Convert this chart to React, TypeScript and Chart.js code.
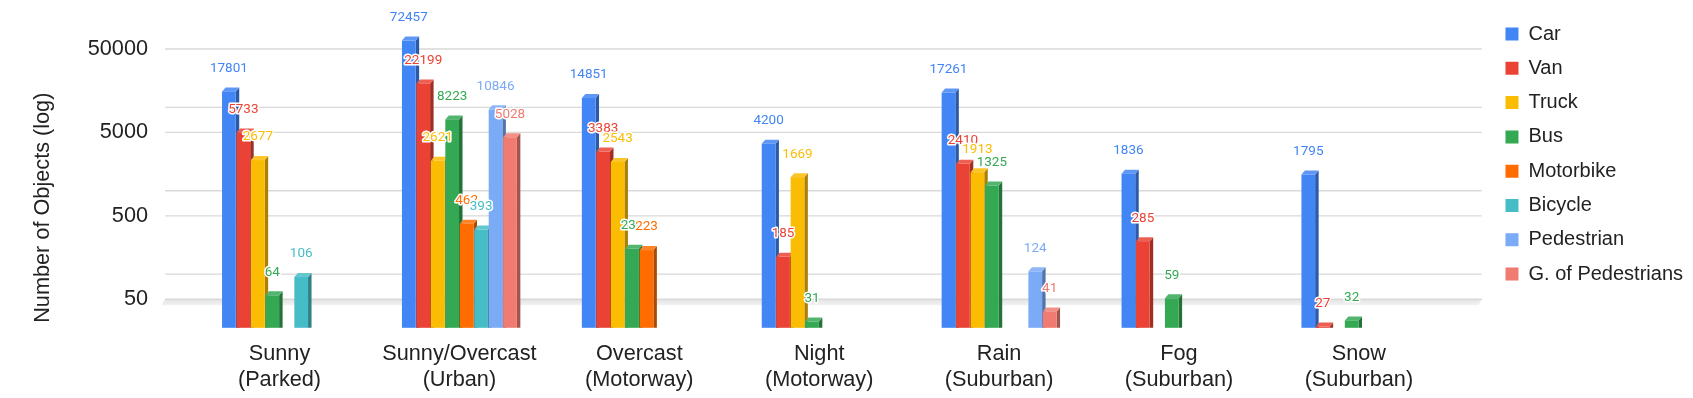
import React, { useEffect, useRef } from 'react';
import { Chart, registerables } from 'chart.js';

Chart.register(...registerables);

// ---------- data ----------
const categories: string[][] = [
  ['Sunny', '(Parked)'],
  ['Sunny/Overcast', '(Urban)'],
  ['Overcast', '(Motorway)'],
  ['Night', '(Motorway)'],
  ['Rain', '(Suburban)'],
  ['Fog', '(Suburban)'],
  ['Snow', '(Suburban)'],
];

const seriesNames = ['Car', 'Van', 'Truck', 'Bus', 'Motorbike', 'Bicycle', 'Pedestrian', 'G. of Pedestrians'];
const seriesColors = ['#4285F4', '#EA4335', '#FBBC04', '#34A853', '#FF6D01', '#46BDC6', '#7BAAF7', '#F07B72'];

const car = [17801, 72457, 14851, 4200, 17261, 1836, 1795];
const van = [5733, 22199, 3383, 185, 2410, 285, 27];
const truck = [2677, 2621, 2543, 1669, 1913, null, null];
const bus = [64, 8223, 231, 31, 1325, 59, 32];
const motorbike = [null, 462, 223, null, null, null, null];
const bicycle = [106, 393, null, null, null, null, null];
const pedestrian = [null, 10846, null, null, 124, null, null];
const groupsOfPedestrians = [null, 5028, null, null, 41, null, null];

const seriesValues = [car, van, truck, bus, motorbike, bicycle, pedestrian, groupsOfPedestrians];

const tickValues = [50, 500, 5000, 50000];
const gridValues = [50, 100, 500, 1000, 5000, 10000, 50000];
const floorValue = 50;
const yMin = 26.1;
const yMax = 148000;

// ---------- style ----------
const FONT = "'Liberation Sans', Arial, sans-serif";
const TEXT = '#222222';
const DX = 3.5; // depth to the right
const DROP = 5; // front face drop below the back plane
const TOPD = 4; // vertical depth of the top face
const CHART_RIGHT = 1448.85;

function mix(hex: string, target: number, t: number): string {
  const n = parseInt(hex.slice(1), 16);
  const r = (n >> 16) & 255, g = (n >> 8) & 255, b = n & 255;
  const f = (c: number) => Math.round(c + (target - c) * t);
  return `rgb(${f(r)},${f(g)},${f(b)})`;
}

const threeD = {
  id: 'threeD',
  beforeDatasetsDraw(chart: any) {
    const { ctx, chartArea, scales } = chart;
    const ys = scales.y;
    const gl = chartArea.left - 24.5;
    const gr = chartArea.right + 32.9;
    ctx.save();
    // floor
    const yf = ys.getPixelForValue(floorValue);
    const grad = ctx.createLinearGradient(0, yf, 0, yf + 6);
    grad.addColorStop(0, '#e2e2e2');
    grad.addColorStop(1, '#f3f3f3');
    ctx.fillStyle = grad;
    ctx.beginPath();
    ctx.moveTo(gl, yf);
    ctx.lineTo(gr, yf);
    ctx.lineTo(gr - DX, yf + 6);
    ctx.lineTo(gl - DX, yf + 6);
    ctx.closePath();
    ctx.fill();
    // grid lines on the back wall
    ctx.strokeStyle = '#d9d9d9';
    ctx.lineWidth = 1.3;
    gridValues.forEach((v) => {
      const py = ys.getPixelForValue(v);
      ctx.beginPath();
      ctx.moveTo(gl, py);
      ctx.lineTo(gr, py);
      ctx.stroke();
    });
    // bars
    chart.data.datasets.forEach((ds: any, di: number) => {
      if (!chart.isDatasetVisible(di)) return;
      const meta = chart.getDatasetMeta(di);
      const color = ds.backgroundColor as string;
      const side = mix(color, 0, 0.32);
      const top = mix(color, 255, 0.15);
      meta.data.forEach((el: any, i: number) => {
        const v = ds.data[i];
        if (v == null) return;
        const { x, y, base, width } = el.getProps(['x', 'y', 'base', 'width'], true);
        const x0 = x - width / 2;
        const x1 = x + width / 2;
        const yt = y + DROP;
        const yb = base + DROP;
        // side face
        ctx.fillStyle = side;
        ctx.beginPath();
        ctx.moveTo(x1, yt);
        ctx.lineTo(x1 + DX, yt - TOPD);
        ctx.lineTo(x1 + DX, yb);
        ctx.lineTo(x1, yb);
        ctx.closePath();
        ctx.fill();
        // top face
        ctx.fillStyle = top;
        ctx.beginPath();
        ctx.moveTo(x0, yt);
        ctx.lineTo(x0 + DX, yt - TOPD);
        ctx.lineTo(x1 + DX, yt - TOPD);
        ctx.lineTo(x1, yt);
        ctx.closePath();
        ctx.fill();
        // front face
        ctx.fillStyle = color;
        ctx.fillRect(x0, yt, width, yb - yt);
      });
    });
    ctx.restore();
  },
  beforeDatasetDraw() {
    return false;
  },
  afterDatasetsDraw(chart: any) {
    const { ctx } = chart;
    ctx.save();
    ctx.font = "13.5px Roboto, 'Liberation Sans', sans-serif";
    ctx.textAlign = 'center';
    ctx.textBaseline = 'middle';
    ctx.lineJoin = 'round';
    chart.data.datasets.forEach((ds: any, di: number) => {
      if (!chart.isDatasetVisible(di)) return;
      const meta = chart.getDatasetMeta(di);
      meta.data.forEach((el: any, i: number) => {
        const v = ds.data[i];
        if (v == null) return;
        const { x, y } = el.getProps(['x', 'y'], true);
        const ly = y - 18;
        ctx.strokeStyle = '#ffffff';
        ctx.lineWidth = 3;
        ctx.strokeText(String(v), x, ly);
        ctx.fillStyle = ds.backgroundColor;
        ctx.fillText(String(v), x, ly);
      });
    });
    ctx.restore();
  },
};

export default function App() {
  const canvasRef = useRef<HTMLCanvasElement | null>(null);

  useEffect(() => {
    const canvas = canvasRef.current;
    if (!canvas) return;
    const chart = new Chart(canvas, {
      type: 'bar',
      data: {
        labels: categories,
        datasets: seriesNames.map((name, i) => ({
          label: name,
          data: seriesValues[i],
          backgroundColor: seriesColors[i],
          borderWidth: 0,
          categoryPercentage: 0.643,
          barPercentage: 0.947,
        })),
      },
      options: {
        responsive: false,
        animation: false,
        layout: { padding: { top: 9.7, left: 0, right: 0, bottom: 0 } },
        plugins: {
          tooltip: { enabled: false },
          legend: {
            position: 'right',
            align: 'start',
            labels: {
              boxWidth: 13,
              boxHeight: 13,
              padding: 14.3,
              color: TEXT,
              font: { family: FONT, size: 20 },
            },
          },
        },
        scales: {
          x: {
            type: 'category',
            grid: { display: false, drawTicks: false },
            border: { display: false },
            ticks: {
              color: TEXT,
              font: { family: FONT, size: 21.7 },
              padding: 18,
              maxRotation: 0,
              autoSkip: false,
            },
            afterFit: (s: any) => {
              s.height = 75.2;
              s.paddingLeft = 0;
              s.paddingRight = 0;
            },
          },
          y: {
            type: 'logarithmic',
            position: 'left',
            min: yMin,
            max: yMax,
            grid: { display: false, drawTicks: false },
            border: { display: false },
            ticks: {
              color: TEXT,
              font: { family: FONT, size: 21.7 },
              padding: 41.5,
              autoSkip: false,
              callback: (v: any) => String(v),
            },
            afterBuildTicks: (s: any) => {
              s.ticks = tickValues.map((v) => ({ value: v }));
            },
            title: {
              display: true,
              text: 'Number of Objects (log)',
              align: 'start',
              color: TEXT,
              font: { family: FONT, size: 21.7 },
              padding: { top: 30, bottom: 0 },
            },
            afterFit: (s: any) => {
              s.width = 189.55;
              s.paddingTop = 0;
              s.paddingBottom = 0;
            },
          },
          spacer: {
            type: 'linear',
            position: 'right',
            display: true,
            grid: { display: false, drawTicks: false },
            border: { display: false },
            ticks: { display: false, padding: 0 },
            afterFit: (s: any) => {
              const lw = s.chart.legend ? s.chart.legend.width : 201.8;
              s.width = Math.max(0, s.chart.width - lw - CHART_RIGHT);
              s.paddingTop = 0;
              s.paddingBottom = 0;
            },
          },
        },
      },
      plugins: [threeD],
    } as any);
    return () => chart.destroy();
  }, []);

  return (
    <div style={{ position: 'fixed', left: 0, top: 0, width: 1693, height: 398, background: '#fff' }}>
      <canvas ref={canvasRef} width={1693} height={398} style={{ display: 'block' }} />
    </div>
  );
}
